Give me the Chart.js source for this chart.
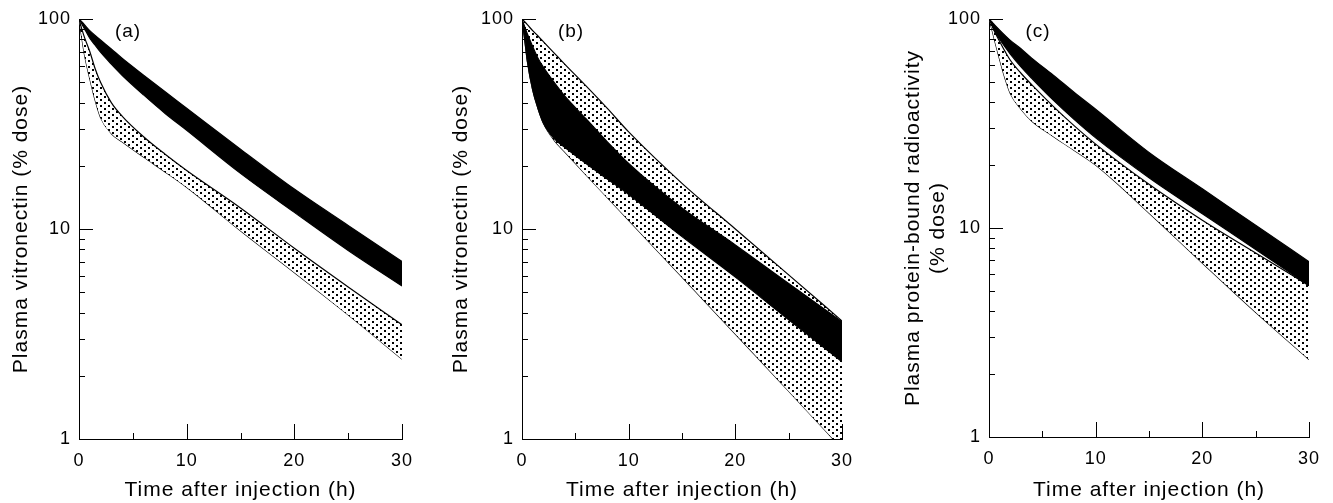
<!DOCTYPE html>
<html>
<head>
<meta charset="utf-8">
<script src="https://cdn.jsdelivr.net/npm/chart.js"></script>
<style>
  html, body { margin: 0; padding: 0; background: #fff; }
  body { width: 1333px; height: 503px; position: relative; overflow: hidden; }
  .panel { position: absolute; top: 0; height: 503px; }
</style>
</head>
<body>
<div class="panel" style="left:0;width:440px"><canvas id="panelA" width="440" height="503"></canvas></div>
<div class="panel" style="left:440px;width:446px"><canvas id="panelB" width="446" height="503"></canvas></div>
<div class="panel" style="left:886px;width:447px"><canvas id="panelC" width="447" height="503"></canvas></div>
<script>
// horas en las que se leyeron los valores de las bandas
const hours = [0, 0.25, 0.5, 1, 1.5, 2, 3, 4, 6, 8, 10, 15, 20, 25, 30];

// panel (a)
const aBlackHigh = [100, 97, 94, 88, 83.5, 79.4, 72, 65, 54, 45, 37.6, 24, 15.5, 10.4, 7.0];
const aBlackLow  = [100, 95, 90, 81, 75, 69.5, 61, 54, 43.5, 35.5, 29.5, 18.4, 12.0, 7.9, 5.35];
const aDotHigh   = [100, 90, 82, 70, 58, 50, 40, 34.5, 27.5, 22.7, 19, 12.6, 8.1, 5.3, 3.5];
const aDotLow    = [100, 82, 68, 52, 41, 34, 28.5, 26, 22, 18.7, 15.8, 9.8, 6.2, 3.9, 2.4];

// panel (b)
const bBlackHigh = [100, 92, 85, 74, 65, 59, 50, 43, 33.5, 26, 20.5, 12.6, 8.4, 5.5, 3.62];
const bBlackLow  = [100, 80, 63, 46, 37.5, 32, 27, 24.5, 20.5, 17.3, 14.6, 9.2, 5.9, 3.7, 2.33];
const bDotHigh   = [100, 97, 94, 88, 83, 78, 69, 61, 48, 37.5, 29, 16.5, 10.0, 6.05, 3.65];
const bDotLow    = [100, 80, 63, 46, 37.5, 32, 26.5, 23.3, 18.1, 14.1, 11.0, 5.9, 3.16, 1.69, 0.9];

// panel (c)
const cBlackHigh = [100, 97, 94, 88.5, 83.5, 79, 72, 65, 54, 44.5, 37, 23, 15.4, 10.3, 6.9];
const cBlackLow  = [100, 94, 88, 80, 73.5, 68, 59, 52, 41, 33, 27, 17.4, 11.7, 7.9, 5.3];
const cDotHigh   = [100, 94, 87.5, 78, 70, 63.5, 55, 48.5, 38.3, 30.8, 25.2, 16.2, 10.9, 7.6, 5.3];
const cDotLow    = [100, 90, 80, 64, 52, 44, 37, 32.5, 27.5, 23.5, 20, 11.8, 6.8, 3.95, 2.35];

// marcas de los ejes
const xLabelTicks = [0, 10, 20, 30];
const xMajorMarks = [10, 20, 30];
const xMinorMarks = [5, 15, 25];
const yLabelTicks = [1, 10, 100];
const yMajorMarks = [10, 100];
const yMinorMarks = [2, 3, 4, 5, 6, 7, 8, 9, 20, 30, 40, 50, 60, 70, 80, 90];

const fontFamily = "'Liberation Sans', Arial, Helvetica, sans-serif";

// trama de puntos para la banda punteada
const makeDots = () => {
    const c = document.createElement('canvas');
    c.width = 8;
    c.height = 6;
    const g = c.getContext('2d');
    g.fillStyle = '#fff';
    g.fillRect(0, 0, 8, 6);
    g.fillStyle = '#000';
    g.fillRect(0, 0, 2, 2);
    g.fillRect(4, 3, 2, 2);
    return g.createPattern(c, 'repeat');
};
const dots = makeDots();

const toPoints = (values) => values.map((v, i) => ({ x: hours[i], y: v }));

// el texto de la figura original es algo más espaciado
const spacing = {
    id: 'spacing',
    afterInit(chart) { chart.ctx.letterSpacing = '1px'; },
    beforeUpdate(chart) { chart.ctx.letterSpacing = '1px'; },
    beforeDraw(chart) { chart.ctx.letterSpacing = '1px'; },
};

// marcas hacia adentro y la letra del panel
const innerMarks = {
    id: 'innerMarks',
    afterDraw(chart, args, opts) {
        const { ctx, chartArea, scales: { x, y } } = chart;
        ctx.save();
        ctx.strokeStyle = '#000';
        ctx.lineWidth = 1;
        const vline = (v, len) => {
            const px = Math.round(x.getPixelForValue(v)) + 0.5;
            ctx.beginPath();
            ctx.moveTo(px, chartArea.bottom);
            ctx.lineTo(px, chartArea.bottom - len);
            ctx.stroke();
        };
        const hline = (v, len) => {
            const py = Math.round(y.getPixelForValue(v)) + 0.5;
            ctx.beginPath();
            ctx.moveTo(chartArea.left, py);
            ctx.lineTo(chartArea.left + len, py);
            ctx.stroke();
        };
        xMajorMarks.forEach(v => vline(v, 15));
        xMinorMarks.forEach(v => vline(v, 6));
        yMajorMarks.forEach(v => hline(v, 14));
        yMinorMarks.forEach(v => hline(v, 6));

        ctx.fillStyle = '#000';
        ctx.font = '19px ' + fontFamily;
        ctx.textAlign = 'center';
        ctx.textBaseline = 'middle';
        ctx.fillText(opts.letter, chartArea.left + 49, chartArea.top + 13);
        ctx.restore();
    }
};

const makePanel = (id, bands, cfg) => {
    const tickFont = { family: fontFamily, size: 18 };
    const titleFont = { family: fontFamily, size: 21 };
    const ctx = document.getElementById(id);
    new Chart(ctx, {
        type: 'line',
        data: {
            datasets: [
                {
                    data: toPoints(bands.blackHigh),
                    borderColor: '#000',
                    backgroundColor: '#000',
                    fill: '+1',
                },
                {
                    data: toPoints(bands.blackLow),
                    borderColor: '#000',
                    fill: false,
                },
                {
                    data: toPoints(bands.dotHigh),
                    borderColor: '#000',
                    backgroundColor: dots,
                    fill: '+1',
                },
                {
                    data: toPoints(bands.dotLow),
                    borderColor: '#000',
                    fill: false,
                },
            ],
        },
        options: {
            responsive: false,
            animation: false,
            layout: {
                padding: { top: 19, right: cfg.right, left: 0, bottom: 0 },
            },
            elements: {
                point: { radius: 0 },
                line: { borderWidth: 1.2, cubicInterpolationMode: 'monotone' },
            },
            plugins: {
                legend: { display: false },
                tooltip: { enabled: false },
                innerMarks: { letter: cfg.letter },
            },
            scales: {
                x: {
                    type: 'linear',
                    min: 0,
                    max: 30,
                    afterBuildTicks: (s) => { s.ticks = xLabelTicks.map(v => ({ value: v })); },
                    afterFit: (s) => { s.height = cfg.xHeight; },
                    grid: { display: false, drawTicks: false },
                    border: { color: '#000', width: 1 },
                    ticks: { color: '#000', font: tickFont, padding: 11, maxRotation: 0 },
                    title: {
                        display: true,
                        text: 'Time after injection (h)',
                        color: '#000',
                        font: titleFont,
                        padding: { top: 0, bottom: 0 },
                    },
                },
                y: {
                    type: 'logarithmic',
                    min: 1,
                    max: 100,
                    afterBuildTicks: (s) => { s.ticks = yLabelTicks.map(v => ({ value: v })); },
                    afterFit: (s) => { s.width = cfg.yWidth; },
                    grid: { display: false, drawTicks: false },
                    border: { color: '#000', width: 1 },
                    ticks: {
                        color: '#000',
                        font: tickFont,
                        padding: 8,
                        callback: (v) => String(v),
                    },
                    title: {
                        display: true,
                        text: cfg.yTitle,
                        color: '#000',
                        font: { family: fontFamily, size: 21, lineHeight: cfg.titleLine },
                        padding: { top: cfg.titlePad, bottom: 0 },
                    },
                },
            },
        },
        plugins: [spacing, innerMarks],
    });
};

makePanel('panelA',
    { blackHigh: aBlackHigh, blackLow: aBlackLow, dotHigh: aDotHigh, dotLow: aDotLow },
    { letter: '(a)', right: 38, yWidth: 79, xHeight: 64, yTitle: 'Plasma vitronectin (% dose)', titleLine: 1.2, titlePad: 9 });

makePanel('panelB',
    { blackHigh: bBlackHigh, blackLow: bBlackLow, dotHigh: bDotHigh, dotLow: bDotLow },
    { letter: '(b)', right: 44, yWidth: 82, xHeight: 64, yTitle: 'Plasma vitronectin (% dose)', titleLine: 1.2, titlePad: 9 });

makePanel('panelC',
    { blackHigh: cBlackHigh, blackLow: cBlackLow, dotHigh: cDotHigh, dotLow: cDotLow },
    { letter: '(c)', right: 24, yWidth: 103, xHeight: 66, yTitle: ['Plasma protein-bound radioactivity', '(% dose)'], titleLine: '25px', titlePad: 15 });
</script>
</body>
</html>
